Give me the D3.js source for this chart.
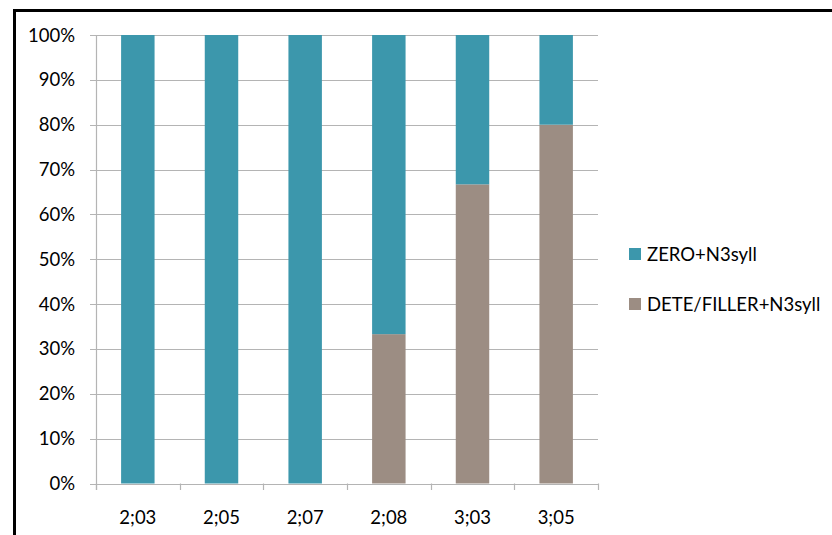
<!DOCTYPE html>
<html><head><meta charset="utf-8">
<script src="https://cdn.jsdelivr.net/npm/d3@7/dist/d3.min.js"></script>
<style>body{margin:0;background:#fff}svg{display:block}</style>
</head><body>
<script>
const categories = ["2;03","2;05","2;07","2;08","3;03","3;05"];
const zeroN3syll = [100,100,100,66.7,33.3,20];
const deteFillerN3syll = [0,0,0,33.3,66.7,80];
const seriesNames = ["DETE/FILLER+N3syll","ZERO+N3syll"];
const yTicks = [0,10,20,30,40,50,60,70,80,90,100];
const colors = {"ZERO+N3syll":"#3c97ac","DETE/FILLER+N3syll":"#9c8d83"};

const W=832,H=535;
const svg=d3.select("body").append("svg").attr("width",W).attr("height",H);
const font="Lato, 'Open Sans', sans-serif";

// frame
svg.append("rect").attr("x",14.5).attr("y",10.5).attr("width",W).attr("height",H)
  .attr("fill","none").attr("stroke","#000").attr("stroke-width",3);

const x=d3.scaleBand().domain(categories).range([96,598]).paddingInner(0.6).paddingOuter(0.3);
const y=d3.scaleLinear().domain([0,100]).range([483.5,35]);
const grid="#b4b4b4";

// gridlines
svg.append("g").selectAll("line").data(yTicks).join("line")
  .attr("x1",90).attr("x2",598).attr("y1",d=>Math.round(y(d))+0.5).attr("y2",d=>Math.round(y(d))+0.5)
  .attr("stroke",grid).attr("stroke-width",1.2);

// y labels
svg.append("g").selectAll("text").data(yTicks).join("text")
  .attr("x",75).attr("y",d=>y(d)+6.5).attr("text-anchor","end")
  .attr("font-family",font).attr("font-size",18.5).attr("fill","#000").text(d=>d+"%");

// y axis line
svg.append("line").attr("x1",96.5).attr("x2",96.5).attr("y1",35).attr("y2",490).attr("stroke",grid).attr("stroke-width",1.2);

// x ticks at band boundaries
const step=x.step();
const bounds=d3.range(categories.length+1).map(i=>96+i*(502/categories.length));
svg.append("g").selectAll("line").data(bounds).join("line")
  .attr("x1",d=>Math.round(d)+0.5).attr("x2",d=>Math.round(d)+0.5).attr("y1",483.5).attr("y2",490)
  .attr("stroke",grid).attr("stroke-width",1.2);

// stacked bars
const data=categories.map((c,i)=>({cat:c,"ZERO+N3syll":zeroN3syll[i],"DETE/FILLER+N3syll":deteFillerN3syll[i]}));
const stack=d3.stack().keys(seriesNames)(data);
svg.append("g").selectAll("g").data(stack).join("g").attr("fill",d=>colors[d.key])
  .selectAll("rect").data(d=>d).join("rect")
  .attr("x",d=>x(d.data.cat)).attr("width",x.bandwidth())
  .attr("y",d=>y(d[1])).attr("height",d=>y(d[0])-y(d[1]));

// x labels
svg.append("g").selectAll("text").data(categories).join("text")
  .attr("x",d=>x(d)+x.bandwidth()/2).attr("y",523.5).attr("text-anchor","middle")
  .attr("font-family",font).attr("font-size",18.5).attr("fill","#000").text(d=>d);

// legend
const legendItems=["ZERO+N3syll","DETE/FILLER+N3syll"];
const lg=svg.append("g").selectAll("g").data(legendItems).join("g")
  .attr("transform",(d,i)=>`translate(629,${248+i*50})`);
lg.append("rect").attr("width",12).attr("height",12).attr("fill",d=>colors[d]);
lg.append("text").attr("x",18).attr("y",13).attr("font-family",font).attr("font-size",18.5).attr("fill","#000").text(d=>d);
</script>
</body></html>
